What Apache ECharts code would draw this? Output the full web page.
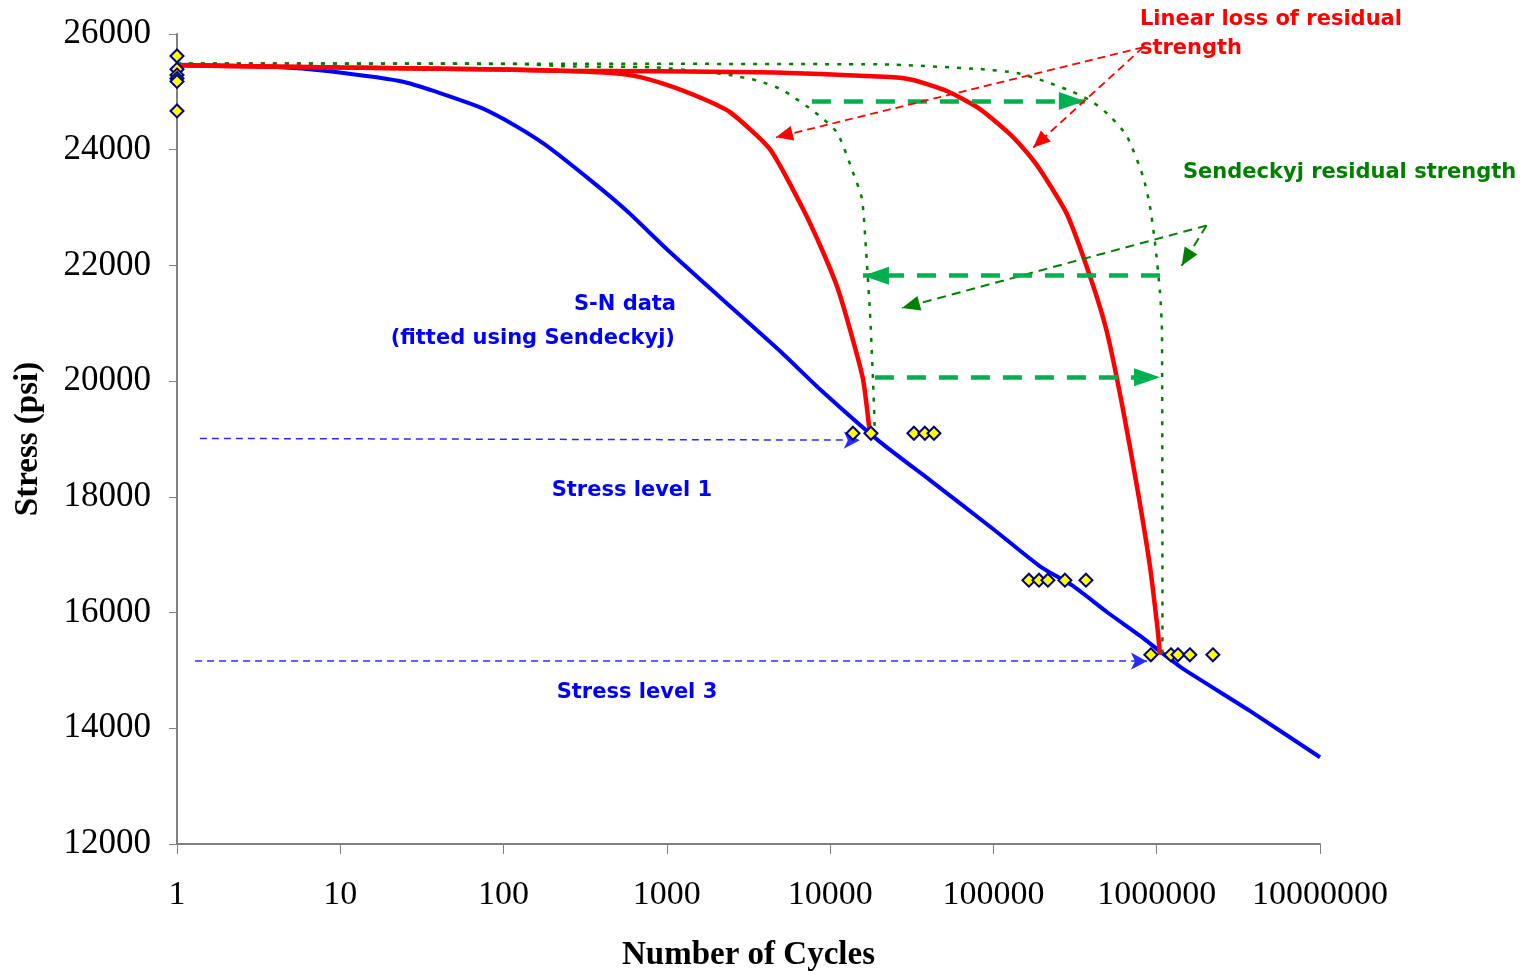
<!DOCTYPE html>
<html>
<head>
<meta charset="utf-8">
<script src="https://cdn.jsdelivr.net/npm/echarts@6/dist/echarts.min.js"></script>
<style>
  html, body { margin: 0; padding: 0; background: #ffffff; }
  #chart { width: 1532px; height: 971px; }
</style>
</head>
<body>
<div id="chart"></div>
<script>
// ---------------- data ----------------
const xTickLabels = ['1', '10', '100', '1000', '10000', '100000', '1000000', '10000000'];
const yTickLabels = ['12000', '14000', '16000', '18000', '20000', '22000', '24000', '26000'];

// S-N curve (fitted using Sendeckyj)
const snCycles = [1, 4.1, 8.3, 24.6, 68.7, 100, 177, 352, 570, 1000, 2115, 4930, 8660, 20180, 40830, 100000, 192700, 306800, 495500, 788400, 1047000, 1446000, 3720000, 10000000];
const snStress = [25470, 25430, 25360, 25170, 24755, 24530, 24100, 23440, 22940, 22280, 21450, 20520, 19860, 18950, 18290, 17440, 16800, 16460, 16010, 15600, 15330, 15030, 14300, 13500];

// Linear loss of residual strength, stress level 1 and stress level 3
const linear1Cycles = [1, 10, 100, 221, 389, 620, 1000, 1664, 2434, 4276, 6810, 8890, 11010, 13210, 15880, 17500];
const linear1Stress = [25460, 25420, 25385, 25365, 25337, 25280, 25120, 24880, 24650, 24010, 22980, 22280, 21640, 20900, 20040, 19100];
const linear3Cycles = [1, 10, 100, 221, 3716, 23230, 32140, 51880, 82620, 126200, 167200, 200900, 281800, 389700, 495500, 620900, 767400, 908300, 1017000, 1047000];
const linear3Stress = [25460, 25420, 25385, 25365, 25340, 25256, 25204, 25014, 24703, 24271, 23891, 23580, 22888, 21817, 20849, 19518, 18084, 16805, 15664, 15270];

// Sendeckyj residual strength, stress level 1 and stress level 3
const sendeckyj1Cycles = [1, 125, 238, 822, 1664, 2434, 3614, 5070, 7850, 11010, 13800, 15670, 16570, 17530, 18290, 18800];
const sendeckyj1Stress = [25490, 25480, 25441, 25424, 25348, 25291, 25192, 25036, 24674, 24300, 23609, 23148, 22283, 21194, 20037, 19100];
const sendeckyj3Cycles = [1, 20180, 82620, 139300, 212700, 306800, 406300, 516700, 656600, 822800, 908300, 975000, 1047000, 1077000, 1084000];
const sendeckyj3Stress = [25490, 25475, 25394, 25325, 25170, 24997, 24824, 24582, 24236, 23545, 23027, 22405, 21540, 20849, 15270];

// Test results
const staticStress = [25620, 25390, 25290, 25230, 25180, 24670];   // at 1 cycle
const level1Stress = 19100;
const level1Cycles = [13800, 17780, 32580, 38040, 43220];
const level2Stress = 16560;
const level2Cycles = [164900, 190100, 215600, 274000, 368600];
const level3Stress = 15270;
const level3Cycles = [920900, 1222000, 1349000, 1596000, 2208000];

// Annotation arrows: [fromCycles, fromStress, toCycles, toStress]
const stressLevelArrows = [[1.38, 19010, 15200, 18980], [1.29, 15160, 871000, 15160]];
const linearLossArrows = [[826000, 25770, 4656, 24214], [826000, 25770, 175400, 24038]];
const sendeckyjArrows = [[2020000, 22690, 27540, 21264], [2020000, 22690, 1420000, 21993]];
const strengthGapArrows = [[7730, 24841, 363000, 24841], [1047000, 21822, 15880, 21822], [18800, 20066, 1047000, 20066]];

// Annotation texts anchored in data space: [cycles, stress]
const notes = [
  { text: 'Linear loss of residual', at: [788900, 26250], color: '#ff0000', align: 'left' },
  { text: 'strength', at: [788900, 25750], color: '#ff0000', align: 'left' },
  { text: 'Sendeckyj residual strength', at: [1448000, 23605], color: '#008000', align: 'left' },
  { text: 'S-N data', at: [554, 21325], color: '#0000ff', align: 'center' },
  { text: '(fitted using Sendeckyj)', at: [151, 20735], color: '#0000ff', align: 'center' },
  { text: 'Stress level 1', at: [611, 18105], color: '#0000ff', align: 'center' },
  { text: 'Stress level 3', at: [656, 14615], color: '#0000ff', align: 'center' }
];

// ---------------- helpers ----------------
const zip = (xs, ys) => xs.map((x, i) => [x, ys[i]]);
const atStress = (xs, s) => xs.map(x => [x, s]);

function arrowPairs(list, headSymbol, headSize, headShift) {
  return list.map(a => [
    { coord: [a[0], a[1]], symbol: 'none' },
    { coord: [a[2], a[3]], symbol: headSymbol, symbolSize: headSize, symbolOffset: [0, headShift] }
  ]);
}

function markLines(list, color, width, dash, headSymbol, headSize, headShift) {
  return {
    silent: true,
    animation: false,
    label: { show: false },
    emphasis: { disabled: true },
    lineStyle: { color: color, width: width, type: dash, cap: 'butt' },
    itemStyle: { color: color },
    data: arrowPairs(list, headSymbol, headSize, headShift)
  };
}

const serifFont = '"Liberation Serif", "Times New Roman", serif';

const curve = (name, data, color, width, dash, z, extra) => Object.assign({
  name: name,
  type: 'line',
  data: data,
  symbol: 'none',
  showSymbol: false,
  smooth: 0.2,
  z: z,
  animation: false,
  emphasis: { disabled: true },
  lineStyle: { color: color, width: width, type: dash, cap: 'butt' }
}, extra || {});

// ---------------- chart ----------------
const chart = echarts.init(document.getElementById('chart'), null, { renderer: 'canvas' });

chart.setOption({
  backgroundColor: '#ffffff',
  animation: false,
  grid: { left: 177, right: 212, top: 34, bottom: 127, containLabel: false, outerBoundsMode: 'none' },
  xAxis: {
    type: 'log',
    logBase: 10,
    min: 1,
    max: 10000000,
    interval: 1,
    splitNumber: 7,
    name: 'Number of Cycles',
    nameLocation: 'middle',
    nameGap: 95,
    nameTextStyle: { fontFamily: serifFont, fontWeight: 'bold', fontSize: 33, color: '#000' },
    axisLine: { show: true, lineStyle: { color: '#808080', width: 2 } },
    axisTick: { show: true, inside: false, length: 10, lineStyle: { color: '#808080', width: 1 } },
    minorTick: { show: false },
    splitLine: { show: false },
    axisLabel: {
      interval: 0,
      margin: 34,
      fontFamily: serifFont,
      fontSize: 34,
      color: '#000',
      formatter: v => xTickLabels[Math.round(Math.log10(v))]
    }
  },
  yAxis: {
    type: 'value',
    min: 12000,
    max: 26000,
    interval: 2000,
    name: 'Stress (psi)',
    nameLocation: 'middle',
    nameGap: 132,
    nameRotate: 90,
    nameTextStyle: { fontFamily: serifFont, fontWeight: 'bold', fontSize: 33, color: '#000' },
    axisLine: { show: true, lineStyle: { color: '#808080', width: 2 } },
    axisTick: { show: true, inside: false, length: 8, lineStyle: { color: '#808080', width: 1 } },
    splitLine: { show: false },
    axisLabel: {
      margin: 26,
      fontFamily: serifFont,
      fontSize: 35,
      color: '#000',
      formatter: v => yTickLabels[Math.round((v - 12000) / 2000)]
    }
  },
  series: [
    curve('S-N data', zip(snCycles, snStress), '#0000ff', 4, 'solid', 2, {
      markLine: markLines(stressLevelArrows, '#2b2bff', 1.5, [7, 5], 'arrow', [13, 16], 0)
    }),
    curve('Sendeckyj residual strength 1', zip(sendeckyj1Cycles, sendeckyj1Stress), '#008000', 2.5, [4, 8], 3, {
      markLine: markLines(sendeckyjArrows, '#008000', 2, [9, 6], 'triangle', [15, 18], 9)
    }),
    curve('Sendeckyj residual strength 3', zip(sendeckyj3Cycles, sendeckyj3Stress), '#008000', 2.5, [4, 8], 3, {
      markLine: markLines(strengthGapArrows, '#00b050', 4.5, [19, 13], 'triangle', [18, 26], 13)
    }),
    curve('Linear loss 1', zip(linear1Cycles, linear1Stress), '#ff0000', 4.5, 'solid', 4, {
      markLine: markLines(linearLossArrows, '#ff0000', 1.8, [8, 5], 'triangle', [15, 17], 8.5)
    }),
    curve('Linear loss 3', zip(linear3Cycles, linear3Stress), '#ff0000', 4.5, 'solid', 4),
    {
      name: 'Tests',
      type: 'scatter',
      z: 10,
      animation: false,
      symbol: 'diamond',
      symbolSize: 13,
      emphasis: { disabled: true },
      itemStyle: { color: '#ffff00', borderColor: '#000080', borderWidth: 2, opacity: 1 },
      data: [].concat(
        staticStress.map(s => [1, s]),
        atStress(level1Cycles, level1Stress),
        atStress(level2Cycles, level2Stress),
        atStress(level3Cycles, level3Stress)
      )
    }
  ]
});

// Text annotations placed through the axes' own scales
chart.setOption({
  graphic: notes.map(n => {
    const p = chart.convertToPixel({ gridIndex: 0 }, n.at);
    return {
      type: 'text',
      x: p[0],
      y: p[1],
      z: 50,
      silent: true,
      style: {
        text: n.text,
        fill: n.color,
        fontFamily: '"DejaVu Sans", Verdana, sans-serif',
        fontWeight: 'bold',
        fontSize: 21,
        align: n.align,
        verticalAlign: 'middle'
      }
    };
  })
});
</script>
</body>
</html>
